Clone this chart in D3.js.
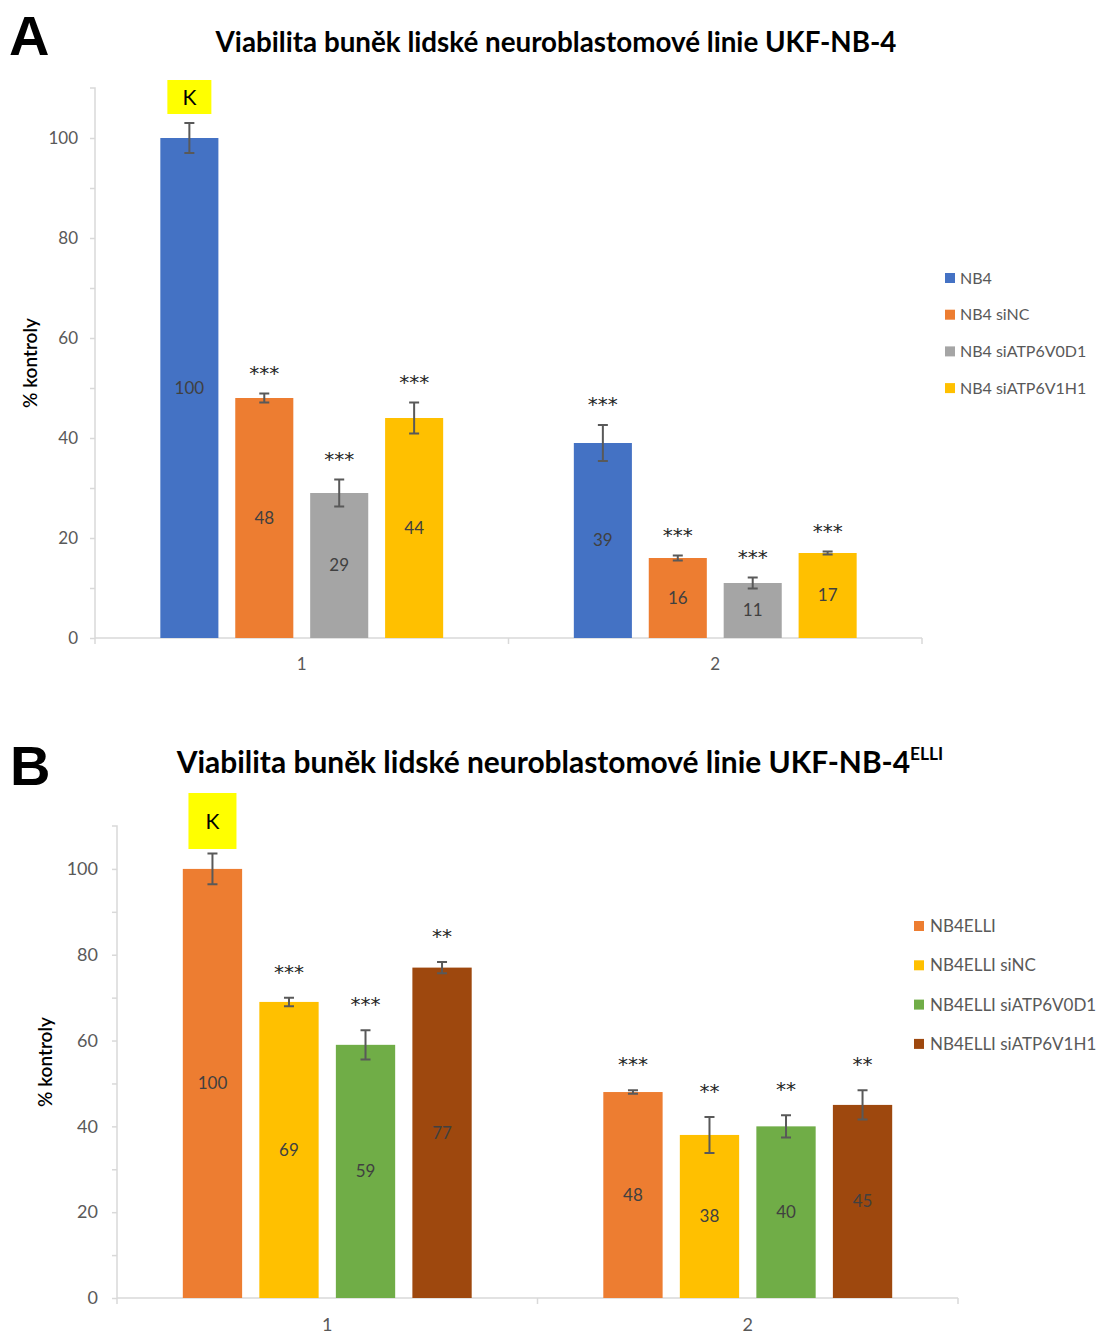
<!DOCTYPE html>
<html>
<head>
<meta charset="utf-8">
<script src="https://cdn.jsdelivr.net/npm/d3@7/dist/d3.min.js"></script>
<style>
  html, body { margin: 0; padding: 0; background: #fff; }
  svg { display: block; }
</style>
</head>
<body>
<svg id="chart" width="1107" height="1334"></svg>
<script>
// ---- data ----
const groups = ["1", "2"];
const yTickValues = [0, 20, 40, 60, 80, 100];

const seriesA = ["NB4", "NB4 siNC", "NB4 siATP6V0D1", "NB4 siATP6V1H1"];
const colorsA = ["#4472C4", "#ED7D31", "#A5A5A5", "#FFC000"];
const valuesA = [[100, 48, 29, 44], [39, 16, 11, 17]];
const errorsA = [[3, 0.9, 2.7, 3.1], [3.6, 0.5, 1.1, 0.3]];
const starsA = [["", "***", "***", "***"], ["***", "***", "***", "***"]];

const seriesB = ["NB4ELLI", "NB4ELLI siNC", "NB4ELLI siATP6V0D1", "NB4ELLI siATP6V1H1"];
const colorsB = ["#ED7D31", "#FFC000", "#70AD47", "#9E480E"];
const valuesB = [[100, 69, 59, 77], [48, 38, 40, 45]];
const errorsB = [[3.6, 1, 3.4, 1.3], [0.4, 4.2, 2.6, 3.4]];
const starsB = [["", "***", "***", "**"], ["***", "**", "**", "**"]];

const titleText = "Viabilita buněk lidské neuroblastomové linie UKF-NB-4";

const FONT = "Lato, 'Open Sans', sans-serif";
const svg = d3.select("#chart");

function drawPanel(p) {
  const g = svg.append("g");
  const y = d3.scaleLinear().domain([0, 110]).range([p.y0, p.yTop]);
  const x0 = d3.scaleBand().domain(groups).range([p.left, p.right]);
  const bw = x0.bandwidth();
  const span = bw * p.groupFrac;
  const x1 = d3.scaleBand().domain(p.series).range([(bw - span) / 2, (bw + span) / 2]).paddingInner(0.225);

  // panel letter
  g.append("text").attr("x", p.letterX).attr("y", p.letterY)
    .attr("font-family", "'Liberation Sans', Arial, sans-serif").attr("font-weight", "bold")
    .attr("font-size", 56).attr("fill", "#000").text(p.letter);

  // title (scaled to its target width)
  const t = g.append("text").attr("y", p.titleY).attr("text-anchor", "middle")
    .attr("x", p.titleCenter).attr("font-family", FONT).attr("font-weight", "bold")
    .attr("font-size", 24).attr("fill", "#000");
  t.append("tspan").text(titleText);
  if (p.sup) {
    t.append("tspan").attr("dy", -10).attr("font-size", 14).text(p.sup);
  }
  const w = t.node().getComputedTextLength();
  const fs = 24 * p.titleWidth / w;
  t.attr("font-size", fs);
  if (p.sup) t.select("tspan:nth-child(2)").attr("font-size", fs * 0.58).attr("dy", -fs * 0.42);

  // y axis
  const yAxis = d3.axisLeft(y).tickValues(d3.range(0, 110, 10)).tickSize(5)
    .tickFormat(d => yTickValues.includes(d) ? d : "");
  const ya = g.append("g").attr("transform", `translate(${p.left},0)`).call(yAxis);
  ya.select(".domain").attr("stroke", "#d9d9d9").attr("stroke-width", 1.5)
    .attr("d", `M-5,${p.yTop}H0V${p.y0}`);
  ya.selectAll(".tick line").attr("stroke", "#d9d9d9").attr("stroke-width", 1.5);
  ya.selectAll(".tick text").attr("font-family", FONT).attr("font-size", p.tickFont)
    .attr("fill", "#595959").attr("x", -p.tickPad);

  // x axis
  const xa = g.append("g").attr("transform", `translate(0,${p.y0})`);
  xa.append("line").attr("x1", p.left).attr("x2", p.right).attr("y1", 0).attr("y2", 0)
    .attr("stroke", "#d9d9d9").attr("stroke-width", 1.5);
  const bounds = [p.left, ...groups.map(d => x0(d) + bw)];
  xa.selectAll("line.tk").data(bounds).join("line").attr("class", "tk")
    .attr("x1", d => d).attr("x2", d => d).attr("y1", 0).attr("y2", 6)
    .attr("stroke", "#d9d9d9").attr("stroke-width", 1.5);
  xa.selectAll("text").data(groups).join("text")
    .attr("x", d => x0(d) + bw / 2).attr("y", p.catLabelDy)
    .attr("text-anchor", "middle").attr("font-family", FONT).attr("font-size", p.tickFont)
    .attr("fill", "#595959").text(d => d);

  // y axis title
  g.append("text").attr("transform", `translate(${p.yLabelX},${(p.y0 + p.yTop) / 2}) rotate(-90)`)
    .attr("text-anchor", "middle").attr("font-family", FONT).attr("font-size", 19)
    .attr("font-weight", 600).attr("fill", "#000").text("% kontroly");

  // bars
  const flat = [];
  groups.forEach((grp, gi) => p.series.forEach((s, si) => {
    flat.push({ grp, s, si, v: p.values[gi][si], e: p.errors[gi][si], star: p.stars[gi][si] });
  }));
  const bx = d => x0(d.grp) + x1(d.s);
  const cx = d => bx(d) + x1.bandwidth() / 2;

  g.append("g").selectAll("rect").data(flat).join("rect")
    .attr("x", bx).attr("width", x1.bandwidth())
    .attr("y", d => y(d.v)).attr("height", d => y(0) - y(d.v))
    .attr("fill", d => p.colors[d.si]);

  // error bars
  const eb = g.append("g").attr("stroke", "#595959").attr("stroke-width", 2).attr("fill", "none");
  eb.selectAll("path").data(flat).join("path")
    .attr("d", d => {
      const c = cx(d), hi = y(d.v + d.e), lo = y(d.v - d.e), cw = 5;
      return `M${c},${hi}V${lo}M${c - cw},${hi}H${c + cw}M${c - cw},${lo}H${c + cw}`;
    });

  // value labels in the middle of each bar
  g.append("g").selectAll("text").data(flat).join("text")
    .attr("x", cx).attr("y", d => y(d.v / 2)).attr("dy", "0.35em")
    .attr("text-anchor", "middle").attr("font-family", FONT).attr("font-size", 17)
    .attr("fill", "#404040").text(d => d.v);

  // significance stars
  g.append("g").selectAll("text").data(flat.filter(d => d.star)).join("text")
    .attr("x", cx).attr("y", d => y(d.v + d.e) - p.starOffset).attr("dy", "0.6em")
    .attr("text-anchor", "middle").attr("font-family", "'DejaVu Sans', sans-serif")
    .attr("font-size", 20).attr("fill", "#262626").text(d => d.star);

  // control marker "K"
  const ctrl = flat[0];
  g.append("rect").attr("x", cx(ctrl) - p.kBox.w / 2).attr("y", p.kBox.y)
    .attr("width", p.kBox.w).attr("height", p.kBox.h).attr("fill", "#FFFF00");
  g.append("text").attr("x", cx(ctrl)).attr("y", p.kBox.y + p.kBox.h / 2).attr("dy", "0.36em")
    .attr("text-anchor", "middle").attr("font-family", FONT).attr("font-size", 21)
    .attr("fill", "#000").text("K");

  // legend
  const lg = g.append("g");
  p.series.forEach((s, i) => {
    const ly = p.legendY + i * p.legendStep;
    lg.append("rect").attr("x", p.legendX).attr("y", ly - 5).attr("width", 10).attr("height", 10)
      .attr("fill", p.colors[i]);
    lg.append("text").attr("x", p.legendX + p.legendGap).attr("y", ly).attr("dy", "0.35em")
      .attr("font-family", FONT).attr("font-size", p.legendFont).attr("fill", "#595959").text(s);
  });
}

drawPanel({
  letter: "A", letterX: 9, letterY: 55,
  titleY: 52, titleCenter: 556, titleWidth: 681,
  left: 95, right: 922, y0: 638, yTop: 88, groupFrac: 0.684,
  catLabelDy: 32, yLabelX: 37, tickPad: 17, tickFont: 17,
  series: seriesA, colors: colorsA, values: valuesA, errors: errorsA, stars: starsA,
  starOffset: 26, kBox: { w: 44, h: 34, y: 80 },
  legendX: 945, legendY: 278, legendStep: 36.7, legendGap: 15, legendFont: 16
});

drawPanel({
  letter: "B", letterX: 10, letterY: 785,
  titleY: 773, titleCenter: 560, titleWidth: 767, sup: "ELLI",
  left: 117, right: 958, y0: 1298, yTop: 826, groupFrac: 0.687,
  catLabelDy: 33, yLabelX: 52, tickPad: 19, tickFont: 18,
  series: seriesB, colors: colorsB, values: valuesB, errors: errorsB, stars: starsB,
  starOffset: 31, kBox: { w: 48, h: 56, y: 793 },
  legendX: 914, legendY: 926, legendStep: 39.3, legendGap: 16, legendFont: 17
});
</script>
</body>
</html>
